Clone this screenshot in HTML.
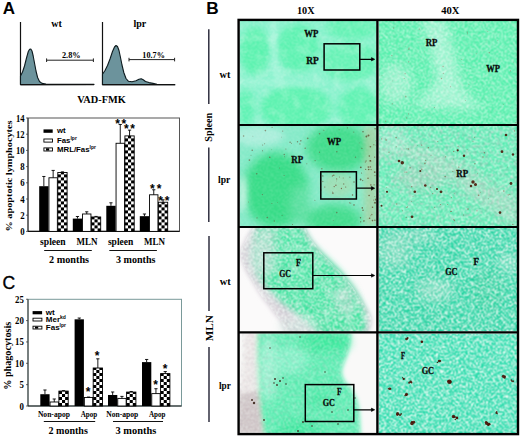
<!DOCTYPE html>
<html><head><meta charset="utf-8"><style>
html,body{margin:0;padding:0;background:#fff;width:520px;height:437px;overflow:hidden}
svg{display:block}
</style></head><body>
<svg xmlns="http://www.w3.org/2000/svg" width="520" height="437" viewBox="0 0 520 437">
<rect width="520" height="437" fill="#fff"/>
<line x1="20.5" y1="22" x2="20.5" y2="85" stroke="#111" stroke-width="1.2"/>
<path d="M20.5,84.6 20.5,76 22.5,72 24.5,66 26.5,58 28.3,51.5 29.6,49.2 30.8,49 32,51 33.2,56 34.5,63 36,71 37.6,77.5 39.5,81.5 42,83.4 46,84 60,84.2 94,84.4 Z" fill="#6c939c" stroke="#0d1a1e" stroke-width="1.1" stroke-linejoin="round"/>
<line x1="20.5" y1="84.6" x2="94" y2="84.6" stroke="#111" stroke-width="1.2"/>
<line x1="102.5" y1="22" x2="102.5" y2="85" stroke="#111" stroke-width="1.2"/>
<path d="M102.5,84.8 102.5,74.2 105,70.5 107.5,65.5 110,59 112.5,51.5 114.5,47 116,45.5 117.5,46.5 119,50.5 120.5,57.5 122,65 123.8,72.5 126,78.5 128.5,81.3 132,81.7 136,80.8 139,79.3 141.2,78.8 143.2,79.8 145.5,81.5 149,82.6 153,83.4 157,84.2 162,84.7 175,84.7 Z" fill="#6c939c" stroke="#0d1a1e" stroke-width="1.1" stroke-linejoin="round"/>
<line x1="102.5" y1="84.6" x2="175" y2="84.6" stroke="#111" stroke-width="1.2"/>
<text x="56.5" y="26.5" font-size="10" font-family="Liberation Serif, serif" font-weight="bold" text-anchor="middle" fill="#000" >wt</text>
<text x="139.8" y="26.5" font-size="10" font-family="Liberation Serif, serif" font-weight="bold" text-anchor="middle" fill="#000" >lpr</text>
<line x1="46.6" y1="60.2" x2="93.4" y2="60.2" stroke="#222" stroke-width="1"/>
<line x1="46.6" y1="58.400000000000006" x2="46.6" y2="62.0" stroke="#222" stroke-width="1"/>
<line x1="93.4" y1="58.400000000000006" x2="93.4" y2="62.0" stroke="#222" stroke-width="1"/>
<line x1="129" y1="59.6" x2="174.6" y2="59.6" stroke="#222" stroke-width="1"/>
<line x1="129" y1="57.800000000000004" x2="129" y2="61.4" stroke="#222" stroke-width="1"/>
<line x1="174.6" y1="57.800000000000004" x2="174.6" y2="61.4" stroke="#222" stroke-width="1"/>
<text x="71.3" y="58" font-size="8.3" font-family="Liberation Serif, serif" font-weight="bold" text-anchor="middle" fill="#000" >2.8%</text>
<text x="153.6" y="57.6" font-size="8.2" font-family="Liberation Serif, serif" font-weight="bold" text-anchor="middle" fill="#000" >10.7%</text>
<text x="101.5" y="102.7" font-size="10" font-family="Liberation Serif, serif" font-weight="bold" text-anchor="middle" fill="#000" textLength="48.5" lengthAdjust="spacingAndGlyphs" >VAD-FMK</text>
<rect x="28.0" y="118.0" width="151.5" height="113.4" fill="none" stroke="#555" stroke-width="1"/>
<line x1="26.0" y1="231.4" x2="28.0" y2="231.4" stroke="#444" stroke-width="0.8"/>
<text x="24.6" y="234.9" font-size="10" font-family="Liberation Serif, serif" font-weight="bold" text-anchor="end" fill="#000" textLength="4.4" lengthAdjust="spacingAndGlyphs" >0</text>
<line x1="26.0" y1="215.20000000000002" x2="28.0" y2="215.20000000000002" stroke="#444" stroke-width="0.8"/>
<text x="24.6" y="218.70000000000002" font-size="10" font-family="Liberation Serif, serif" font-weight="bold" text-anchor="end" fill="#000" textLength="4.4" lengthAdjust="spacingAndGlyphs" >2</text>
<line x1="26.0" y1="199.0" x2="28.0" y2="199.0" stroke="#444" stroke-width="0.8"/>
<text x="24.6" y="202.5" font-size="10" font-family="Liberation Serif, serif" font-weight="bold" text-anchor="end" fill="#000" textLength="4.4" lengthAdjust="spacingAndGlyphs" >4</text>
<line x1="26.0" y1="182.8" x2="28.0" y2="182.8" stroke="#444" stroke-width="0.8"/>
<text x="24.6" y="186.3" font-size="10" font-family="Liberation Serif, serif" font-weight="bold" text-anchor="end" fill="#000" textLength="4.4" lengthAdjust="spacingAndGlyphs" >6</text>
<line x1="26.0" y1="166.60000000000002" x2="28.0" y2="166.60000000000002" stroke="#444" stroke-width="0.8"/>
<text x="24.6" y="170.10000000000002" font-size="10" font-family="Liberation Serif, serif" font-weight="bold" text-anchor="end" fill="#000" textLength="4.4" lengthAdjust="spacingAndGlyphs" >8</text>
<line x1="26.0" y1="150.4" x2="28.0" y2="150.4" stroke="#444" stroke-width="0.8"/>
<text x="24.6" y="153.9" font-size="10" font-family="Liberation Serif, serif" font-weight="bold" text-anchor="end" fill="#000" textLength="8.6" lengthAdjust="spacingAndGlyphs" >10</text>
<line x1="26.0" y1="134.20000000000002" x2="28.0" y2="134.20000000000002" stroke="#444" stroke-width="0.8"/>
<text x="24.6" y="137.70000000000002" font-size="10" font-family="Liberation Serif, serif" font-weight="bold" text-anchor="end" fill="#000" textLength="8.6" lengthAdjust="spacingAndGlyphs" >12</text>
<line x1="26.0" y1="118.00000000000001" x2="28.0" y2="118.00000000000001" stroke="#444" stroke-width="0.8"/>
<text x="24.6" y="121.50000000000001" font-size="10" font-family="Liberation Serif, serif" font-weight="bold" text-anchor="end" fill="#000" textLength="8.6" lengthAdjust="spacingAndGlyphs" >14</text>
<line x1="28.0" y1="118.0" x2="28.0" y2="231.4" stroke="#333" stroke-width="1"/>
<line x1="28.0" y1="231.4" x2="179.5" y2="231.4" stroke="#111" stroke-width="1.1"/>
<text transform="translate(11.9,176) rotate(-90)" font-size="9.2" font-family="Liberation Serif, serif" font-weight="bold" text-anchor="middle" textLength="111" lengthAdjust="spacingAndGlyphs">% apoptotic lymphocytes</text>
<rect x="39.2" y="186.202" width="9.3" height="45.19800000000001" fill="#000"/>
<line x1="43.85" y1="186.202" x2="43.85" y2="176.482" stroke="#000" stroke-width="0.9"/>
<line x1="42.25" y1="176.482" x2="45.45" y2="176.482" stroke="#000" stroke-width="0.9"/>
<rect x="48.95" y="177.77800000000002" width="8.4" height="53.621999999999986" fill="#fff" stroke="#000" stroke-width="0.9"/>
<line x1="53.15" y1="177.77800000000002" x2="53.15" y2="170.407" stroke="#000" stroke-width="0.9"/>
<line x1="51.55" y1="170.407" x2="54.75" y2="170.407" stroke="#000" stroke-width="0.9"/>
<rect x="57.800000000000004" y="172.513" width="9.3" height="58.887" fill="#fff"/>
<rect x="57.80" y="228.40" width="3.10" height="3.00" fill="#000"/>
<rect x="64.00" y="228.40" width="3.10" height="3.00" fill="#000"/>
<rect x="60.90" y="225.40" width="3.10" height="3.00" fill="#000"/>
<rect x="57.80" y="222.40" width="3.10" height="3.00" fill="#000"/>
<rect x="64.00" y="222.40" width="3.10" height="3.00" fill="#000"/>
<rect x="60.90" y="219.40" width="3.10" height="3.00" fill="#000"/>
<rect x="57.80" y="216.40" width="3.10" height="3.00" fill="#000"/>
<rect x="64.00" y="216.40" width="3.10" height="3.00" fill="#000"/>
<rect x="60.90" y="213.40" width="3.10" height="3.00" fill="#000"/>
<rect x="57.80" y="210.40" width="3.10" height="3.00" fill="#000"/>
<rect x="64.00" y="210.40" width="3.10" height="3.00" fill="#000"/>
<rect x="60.90" y="207.40" width="3.10" height="3.00" fill="#000"/>
<rect x="57.80" y="204.40" width="3.10" height="3.00" fill="#000"/>
<rect x="64.00" y="204.40" width="3.10" height="3.00" fill="#000"/>
<rect x="60.90" y="201.40" width="3.10" height="3.00" fill="#000"/>
<rect x="57.80" y="198.40" width="3.10" height="3.00" fill="#000"/>
<rect x="64.00" y="198.40" width="3.10" height="3.00" fill="#000"/>
<rect x="60.90" y="195.40" width="3.10" height="3.00" fill="#000"/>
<rect x="57.80" y="192.40" width="3.10" height="3.00" fill="#000"/>
<rect x="64.00" y="192.40" width="3.10" height="3.00" fill="#000"/>
<rect x="60.90" y="189.40" width="3.10" height="3.00" fill="#000"/>
<rect x="57.80" y="186.40" width="3.10" height="3.00" fill="#000"/>
<rect x="64.00" y="186.40" width="3.10" height="3.00" fill="#000"/>
<rect x="60.90" y="183.40" width="3.10" height="3.00" fill="#000"/>
<rect x="57.80" y="180.40" width="3.10" height="3.00" fill="#000"/>
<rect x="64.00" y="180.40" width="3.10" height="3.00" fill="#000"/>
<rect x="60.90" y="177.40" width="3.10" height="3.00" fill="#000"/>
<rect x="57.80" y="174.40" width="3.10" height="3.00" fill="#000"/>
<rect x="64.00" y="174.40" width="3.10" height="3.00" fill="#000"/>
<rect x="60.90" y="172.51" width="3.10" height="1.89" fill="#000"/>
<rect x="57.800000000000004" y="172.513" width="9.3" height="58.887" fill="none" stroke="#000" stroke-width="0.9"/>
<line x1="62.45" y1="172.513" x2="62.45" y2="171.865" stroke="#000" stroke-width="0.9"/>
<line x1="60.85" y1="171.865" x2="64.05" y2="171.865" stroke="#000" stroke-width="0.9"/>
<rect x="72.8" y="218.602" width="9.3" height="12.798000000000002" fill="#000"/>
<line x1="77.45" y1="218.602" x2="77.45" y2="216.496" stroke="#000" stroke-width="0.9"/>
<line x1="75.85000000000001" y1="216.496" x2="79.05" y2="216.496" stroke="#000" stroke-width="0.9"/>
<rect x="82.55" y="213.985" width="8.4" height="17.414999999999992" fill="#fff" stroke="#000" stroke-width="0.9"/>
<line x1="86.75" y1="213.985" x2="86.75" y2="211.798" stroke="#000" stroke-width="0.9"/>
<line x1="85.15" y1="211.798" x2="88.35" y2="211.798" stroke="#000" stroke-width="0.9"/>
<rect x="91.4" y="216.982" width="9.3" height="14.418000000000006" fill="#fff"/>
<rect x="91.40" y="228.40" width="3.10" height="3.00" fill="#000"/>
<rect x="97.60" y="228.40" width="3.10" height="3.00" fill="#000"/>
<rect x="94.50" y="225.40" width="3.10" height="3.00" fill="#000"/>
<rect x="91.40" y="222.40" width="3.10" height="3.00" fill="#000"/>
<rect x="97.60" y="222.40" width="3.10" height="3.00" fill="#000"/>
<rect x="94.50" y="219.40" width="3.10" height="3.00" fill="#000"/>
<rect x="91.40" y="216.98" width="3.10" height="2.42" fill="#000"/>
<rect x="97.60" y="216.98" width="3.10" height="2.42" fill="#000"/>
<rect x="91.4" y="216.982" width="9.3" height="14.418000000000006" fill="none" stroke="#000" stroke-width="0.9"/>
<line x1="96.05000000000001" y1="216.982" x2="96.05000000000001" y2="216.41500000000002" stroke="#000" stroke-width="0.9"/>
<line x1="94.45000000000002" y1="216.41500000000002" x2="97.65" y2="216.41500000000002" stroke="#000" stroke-width="0.9"/>
<rect x="106.3" y="205.804" width="9.3" height="25.596000000000004" fill="#000"/>
<line x1="110.95" y1="205.804" x2="110.95" y2="202.80700000000002" stroke="#000" stroke-width="0.9"/>
<line x1="109.35000000000001" y1="202.80700000000002" x2="112.55" y2="202.80700000000002" stroke="#000" stroke-width="0.9"/>
<rect x="116.05" y="143.272" width="8.4" height="88.12800000000001" fill="#fff" stroke="#000" stroke-width="0.9"/>
<line x1="120.25" y1="143.272" x2="120.25" y2="124.48000000000002" stroke="#000" stroke-width="0.9"/>
<line x1="118.65" y1="124.48000000000002" x2="121.85" y2="124.48000000000002" stroke="#000" stroke-width="0.9"/>
<rect x="124.9" y="135.901" width="9.3" height="95.499" fill="#fff"/>
<rect x="124.90" y="228.40" width="3.10" height="3.00" fill="#000"/>
<rect x="131.10" y="228.40" width="3.10" height="3.00" fill="#000"/>
<rect x="128.00" y="225.40" width="3.10" height="3.00" fill="#000"/>
<rect x="124.90" y="222.40" width="3.10" height="3.00" fill="#000"/>
<rect x="131.10" y="222.40" width="3.10" height="3.00" fill="#000"/>
<rect x="128.00" y="219.40" width="3.10" height="3.00" fill="#000"/>
<rect x="124.90" y="216.40" width="3.10" height="3.00" fill="#000"/>
<rect x="131.10" y="216.40" width="3.10" height="3.00" fill="#000"/>
<rect x="128.00" y="213.40" width="3.10" height="3.00" fill="#000"/>
<rect x="124.90" y="210.40" width="3.10" height="3.00" fill="#000"/>
<rect x="131.10" y="210.40" width="3.10" height="3.00" fill="#000"/>
<rect x="128.00" y="207.40" width="3.10" height="3.00" fill="#000"/>
<rect x="124.90" y="204.40" width="3.10" height="3.00" fill="#000"/>
<rect x="131.10" y="204.40" width="3.10" height="3.00" fill="#000"/>
<rect x="128.00" y="201.40" width="3.10" height="3.00" fill="#000"/>
<rect x="124.90" y="198.40" width="3.10" height="3.00" fill="#000"/>
<rect x="131.10" y="198.40" width="3.10" height="3.00" fill="#000"/>
<rect x="128.00" y="195.40" width="3.10" height="3.00" fill="#000"/>
<rect x="124.90" y="192.40" width="3.10" height="3.00" fill="#000"/>
<rect x="131.10" y="192.40" width="3.10" height="3.00" fill="#000"/>
<rect x="128.00" y="189.40" width="3.10" height="3.00" fill="#000"/>
<rect x="124.90" y="186.40" width="3.10" height="3.00" fill="#000"/>
<rect x="131.10" y="186.40" width="3.10" height="3.00" fill="#000"/>
<rect x="128.00" y="183.40" width="3.10" height="3.00" fill="#000"/>
<rect x="124.90" y="180.40" width="3.10" height="3.00" fill="#000"/>
<rect x="131.10" y="180.40" width="3.10" height="3.00" fill="#000"/>
<rect x="128.00" y="177.40" width="3.10" height="3.00" fill="#000"/>
<rect x="124.90" y="174.40" width="3.10" height="3.00" fill="#000"/>
<rect x="131.10" y="174.40" width="3.10" height="3.00" fill="#000"/>
<rect x="128.00" y="171.40" width="3.10" height="3.00" fill="#000"/>
<rect x="124.90" y="168.40" width="3.10" height="3.00" fill="#000"/>
<rect x="131.10" y="168.40" width="3.10" height="3.00" fill="#000"/>
<rect x="128.00" y="165.40" width="3.10" height="3.00" fill="#000"/>
<rect x="124.90" y="162.40" width="3.10" height="3.00" fill="#000"/>
<rect x="131.10" y="162.40" width="3.10" height="3.00" fill="#000"/>
<rect x="128.00" y="159.40" width="3.10" height="3.00" fill="#000"/>
<rect x="124.90" y="156.40" width="3.10" height="3.00" fill="#000"/>
<rect x="131.10" y="156.40" width="3.10" height="3.00" fill="#000"/>
<rect x="128.00" y="153.40" width="3.10" height="3.00" fill="#000"/>
<rect x="124.90" y="150.40" width="3.10" height="3.00" fill="#000"/>
<rect x="131.10" y="150.40" width="3.10" height="3.00" fill="#000"/>
<rect x="128.00" y="147.40" width="3.10" height="3.00" fill="#000"/>
<rect x="124.90" y="144.40" width="3.10" height="3.00" fill="#000"/>
<rect x="131.10" y="144.40" width="3.10" height="3.00" fill="#000"/>
<rect x="128.00" y="141.40" width="3.10" height="3.00" fill="#000"/>
<rect x="124.90" y="138.40" width="3.10" height="3.00" fill="#000"/>
<rect x="131.10" y="138.40" width="3.10" height="3.00" fill="#000"/>
<rect x="128.00" y="135.90" width="3.10" height="2.50" fill="#000"/>
<rect x="124.9" y="135.901" width="9.3" height="95.499" fill="none" stroke="#000" stroke-width="0.9"/>
<line x1="129.55" y1="135.901" x2="129.55" y2="130.15" stroke="#000" stroke-width="0.9"/>
<line x1="127.95000000000002" y1="130.15" x2="131.15" y2="130.15" stroke="#000" stroke-width="0.9"/>
<rect x="139.8" y="216.172" width="9.3" height="15.228000000000009" fill="#000"/>
<line x1="144.45000000000002" y1="216.172" x2="144.45000000000002" y2="213.985" stroke="#000" stroke-width="0.9"/>
<line x1="142.85000000000002" y1="213.985" x2="146.05" y2="213.985" stroke="#000" stroke-width="0.9"/>
<rect x="149.55" y="194.788" width="8.4" height="36.611999999999995" fill="#fff" stroke="#000" stroke-width="0.9"/>
<line x1="153.75000000000003" y1="194.788" x2="153.75000000000003" y2="189.76600000000002" stroke="#000" stroke-width="0.9"/>
<line x1="152.15000000000003" y1="189.76600000000002" x2="155.35000000000002" y2="189.76600000000002" stroke="#000" stroke-width="0.9"/>
<rect x="158.4" y="202.24" width="9.3" height="29.159999999999997" fill="#fff"/>
<rect x="158.40" y="228.40" width="3.10" height="3.00" fill="#000"/>
<rect x="164.60" y="228.40" width="3.10" height="3.00" fill="#000"/>
<rect x="161.50" y="225.40" width="3.10" height="3.00" fill="#000"/>
<rect x="158.40" y="222.40" width="3.10" height="3.00" fill="#000"/>
<rect x="164.60" y="222.40" width="3.10" height="3.00" fill="#000"/>
<rect x="161.50" y="219.40" width="3.10" height="3.00" fill="#000"/>
<rect x="158.40" y="216.40" width="3.10" height="3.00" fill="#000"/>
<rect x="164.60" y="216.40" width="3.10" height="3.00" fill="#000"/>
<rect x="161.50" y="213.40" width="3.10" height="3.00" fill="#000"/>
<rect x="158.40" y="210.40" width="3.10" height="3.00" fill="#000"/>
<rect x="164.60" y="210.40" width="3.10" height="3.00" fill="#000"/>
<rect x="161.50" y="207.40" width="3.10" height="3.00" fill="#000"/>
<rect x="158.40" y="204.40" width="3.10" height="3.00" fill="#000"/>
<rect x="164.60" y="204.40" width="3.10" height="3.00" fill="#000"/>
<rect x="161.50" y="202.24" width="3.10" height="2.16" fill="#000"/>
<rect x="158.4" y="202.24" width="9.3" height="29.159999999999997" fill="none" stroke="#000" stroke-width="0.9"/>
<line x1="163.05" y1="202.24" x2="163.05" y2="199.81" stroke="#000" stroke-width="0.9"/>
<line x1="161.45000000000002" y1="199.81" x2="164.65" y2="199.81" stroke="#000" stroke-width="0.9"/>
<text x="117.60" y="127.80" font-size="12" font-family="Liberation Sans, sans-serif" font-weight="bold" text-anchor="middle">*</text>
<text x="123.90" y="127.80" font-size="12" font-family="Liberation Sans, sans-serif" font-weight="bold" text-anchor="middle">*</text>
<text x="126.40" y="132.80" font-size="12" font-family="Liberation Sans, sans-serif" font-weight="bold" text-anchor="middle">*</text>
<text x="132.70" y="132.80" font-size="12" font-family="Liberation Sans, sans-serif" font-weight="bold" text-anchor="middle">*</text>
<text x="152.40" y="192.80" font-size="12" font-family="Liberation Sans, sans-serif" font-weight="bold" text-anchor="middle">*</text>
<text x="159.00" y="192.80" font-size="12" font-family="Liberation Sans, sans-serif" font-weight="bold" text-anchor="middle">*</text>
<text x="160.70" y="204.70" font-size="12" font-family="Liberation Sans, sans-serif" font-weight="bold" text-anchor="middle">*</text>
<text x="167.00" y="204.70" font-size="12" font-family="Liberation Sans, sans-serif" font-weight="bold" text-anchor="middle">*</text>
<rect x="43.5" y="129.4" width="9.2" height="3.4" fill="#000"/>
<rect x="43.9" y="139" width="8.6" height="3.1" fill="#fff" stroke="#000" stroke-width="0.9"/>
<rect x="43.9" y="147.9" width="8.6" height="3.1" fill="#fff" stroke="#000" stroke-width="0.9"/>
<rect x="46" y="148.3" width="3.2" height="2.3" fill="#000"/>
<text x="57" y="133.2" font-size="7.8" font-family="Liberation Sans, sans-serif" font-weight="bold" text-anchor="start" fill="#000" >wt</text>
<text x="57" y="142.8" font-size="7.8" font-family="Liberation Sans, sans-serif" font-weight="bold" text-anchor="start" fill="#000" >Fas<tspan font-size="5" dy="-3">lpr</tspan></text>
<text x="57" y="152.4" font-size="7.8" font-family="Liberation Sans, sans-serif" font-weight="bold" text-anchor="start" fill="#000" >MRL/Fas<tspan font-size="5" dy="-3">lpr</tspan></text>
<text x="52.9" y="245" font-size="9.6" font-family="Liberation Serif, serif" font-weight="bold" text-anchor="middle" fill="#000" textLength="25.6" lengthAdjust="spacingAndGlyphs" >spleen</text>
<text x="87" y="245" font-size="9.6" font-family="Liberation Serif, serif" font-weight="bold" text-anchor="middle" fill="#000" textLength="21" lengthAdjust="spacingAndGlyphs" >MLN</text>
<text x="120.6" y="245" font-size="9.6" font-family="Liberation Serif, serif" font-weight="bold" text-anchor="middle" fill="#000" textLength="25.4" lengthAdjust="spacingAndGlyphs" >spleen</text>
<text x="154.5" y="245" font-size="9.6" font-family="Liberation Serif, serif" font-weight="bold" text-anchor="middle" fill="#000" textLength="21" lengthAdjust="spacingAndGlyphs" >MLN</text>
<line x1="44.2" y1="250.5" x2="91.8" y2="250.5" stroke="#111" stroke-width="1"/>
<line x1="109.3" y1="250.5" x2="156.9" y2="250.5" stroke="#111" stroke-width="1"/>
<text x="69.1" y="262.7" font-size="10" font-family="Liberation Serif, serif" font-weight="bold" text-anchor="middle" fill="#000" textLength="40" lengthAdjust="spacingAndGlyphs" >2 months</text>
<text x="135.7" y="262.7" font-size="10" font-family="Liberation Serif, serif" font-weight="bold" text-anchor="middle" fill="#000" textLength="39.4" lengthAdjust="spacingAndGlyphs" >3 months</text>
<text x="2.4" y="289.2" font-size="17.5" font-family="Liberation Sans, sans-serif" fill="#000" stroke="#000" stroke-width="0.35">C</text>
<rect x="28.0" y="299.3" width="153.5" height="106.69999999999999" fill="none" stroke="#7a9a9a" stroke-width="1"/>
<line x1="26.0" y1="406.0" x2="28.0" y2="406.0" stroke="#444" stroke-width="0.8"/>
<text x="23.8" y="409.5" font-size="10" font-family="Liberation Serif, serif" font-weight="bold" text-anchor="end" fill="#000" textLength="4.4" lengthAdjust="spacingAndGlyphs" >0</text>
<line x1="26.0" y1="384.65" x2="28.0" y2="384.65" stroke="#444" stroke-width="0.8"/>
<text x="23.8" y="388.15" font-size="10" font-family="Liberation Serif, serif" font-weight="bold" text-anchor="end" fill="#000" textLength="4.4" lengthAdjust="spacingAndGlyphs" >5</text>
<line x1="26.0" y1="363.3" x2="28.0" y2="363.3" stroke="#444" stroke-width="0.8"/>
<text x="23.8" y="366.8" font-size="10" font-family="Liberation Serif, serif" font-weight="bold" text-anchor="end" fill="#000" textLength="8.8" lengthAdjust="spacingAndGlyphs" >10</text>
<line x1="26.0" y1="341.95" x2="28.0" y2="341.95" stroke="#444" stroke-width="0.8"/>
<text x="23.8" y="345.45" font-size="10" font-family="Liberation Serif, serif" font-weight="bold" text-anchor="end" fill="#000" textLength="8.8" lengthAdjust="spacingAndGlyphs" >15</text>
<line x1="26.0" y1="320.6" x2="28.0" y2="320.6" stroke="#444" stroke-width="0.8"/>
<text x="23.8" y="324.1" font-size="10" font-family="Liberation Serif, serif" font-weight="bold" text-anchor="end" fill="#000" textLength="8.8" lengthAdjust="spacingAndGlyphs" >20</text>
<line x1="26.0" y1="299.25" x2="28.0" y2="299.25" stroke="#444" stroke-width="0.8"/>
<text x="23.8" y="302.75" font-size="10" font-family="Liberation Serif, serif" font-weight="bold" text-anchor="end" fill="#000" textLength="8.8" lengthAdjust="spacingAndGlyphs" >25</text>
<line x1="28.0" y1="299.3" x2="28.0" y2="406.0" stroke="#333" stroke-width="1"/>
<line x1="28.0" y1="406.0" x2="181.5" y2="406.0" stroke="#111" stroke-width="1.1"/>
<text transform="translate(10.5,355.8) rotate(-90)" font-size="9.4" font-family="Liberation Serif, serif" font-weight="bold" text-anchor="middle" textLength="68" lengthAdjust="spacingAndGlyphs">% phagocytosis</text>
<rect x="40.3" y="394.2148" width="9.3" height="11.785199999999975" fill="#000"/>
<line x1="44.949999999999996" y1="394.2148" x2="44.949999999999996" y2="389.9875" stroke="#000" stroke-width="0.9"/>
<line x1="43.349999999999994" y1="389.9875" x2="46.55" y2="389.9875" stroke="#000" stroke-width="0.9"/>
<rect x="50.05" y="401.9862" width="8.4" height="4.013800000000003" fill="#fff" stroke="#000" stroke-width="0.9"/>
<line x1="54.24999999999999" y1="401.9862" x2="54.24999999999999" y2="398.9972" stroke="#000" stroke-width="0.9"/>
<line x1="52.64999999999999" y1="398.9972" x2="55.849999999999994" y2="398.9972" stroke="#000" stroke-width="0.9"/>
<rect x="58.9" y="391.0977" width="9.3" height="14.902300000000025" fill="#fff"/>
<rect x="58.90" y="403.00" width="3.10" height="3.00" fill="#000"/>
<rect x="65.10" y="403.00" width="3.10" height="3.00" fill="#000"/>
<rect x="62.00" y="400.00" width="3.10" height="3.00" fill="#000"/>
<rect x="58.90" y="397.00" width="3.10" height="3.00" fill="#000"/>
<rect x="65.10" y="397.00" width="3.10" height="3.00" fill="#000"/>
<rect x="62.00" y="394.00" width="3.10" height="3.00" fill="#000"/>
<rect x="58.90" y="391.10" width="3.10" height="2.90" fill="#000"/>
<rect x="65.10" y="391.10" width="3.10" height="2.90" fill="#000"/>
<rect x="58.9" y="391.0977" width="9.3" height="14.902300000000025" fill="none" stroke="#000" stroke-width="0.9"/>
<line x1="63.55" y1="391.0977" x2="63.55" y2="390.628" stroke="#000" stroke-width="0.9"/>
<line x1="61.949999999999996" y1="390.628" x2="65.14999999999999" y2="390.628" stroke="#000" stroke-width="0.9"/>
<rect x="74.6" y="319.319" width="9.3" height="86.68099999999998" fill="#000"/>
<line x1="79.25" y1="319.319" x2="79.25" y2="318.038" stroke="#000" stroke-width="0.9"/>
<line x1="77.65" y1="318.038" x2="80.85" y2="318.038" stroke="#000" stroke-width="0.9"/>
<rect x="84.35" y="397.46" width="8.4" height="8.54000000000002" fill="#fff" stroke="#000" stroke-width="0.9"/>
<line x1="88.55" y1="397.46" x2="88.55" y2="397.033" stroke="#000" stroke-width="0.9"/>
<line x1="86.95" y1="397.033" x2="90.14999999999999" y2="397.033" stroke="#000" stroke-width="0.9"/>
<rect x="93.19999999999999" y="367.997" width="9.3" height="38.002999999999986" fill="#fff"/>
<rect x="93.20" y="403.00" width="3.10" height="3.00" fill="#000"/>
<rect x="99.40" y="403.00" width="3.10" height="3.00" fill="#000"/>
<rect x="96.30" y="400.00" width="3.10" height="3.00" fill="#000"/>
<rect x="93.20" y="397.00" width="3.10" height="3.00" fill="#000"/>
<rect x="99.40" y="397.00" width="3.10" height="3.00" fill="#000"/>
<rect x="96.30" y="394.00" width="3.10" height="3.00" fill="#000"/>
<rect x="93.20" y="391.00" width="3.10" height="3.00" fill="#000"/>
<rect x="99.40" y="391.00" width="3.10" height="3.00" fill="#000"/>
<rect x="96.30" y="388.00" width="3.10" height="3.00" fill="#000"/>
<rect x="93.20" y="385.00" width="3.10" height="3.00" fill="#000"/>
<rect x="99.40" y="385.00" width="3.10" height="3.00" fill="#000"/>
<rect x="96.30" y="382.00" width="3.10" height="3.00" fill="#000"/>
<rect x="93.20" y="379.00" width="3.10" height="3.00" fill="#000"/>
<rect x="99.40" y="379.00" width="3.10" height="3.00" fill="#000"/>
<rect x="96.30" y="376.00" width="3.10" height="3.00" fill="#000"/>
<rect x="93.20" y="373.00" width="3.10" height="3.00" fill="#000"/>
<rect x="99.40" y="373.00" width="3.10" height="3.00" fill="#000"/>
<rect x="96.30" y="370.00" width="3.10" height="3.00" fill="#000"/>
<rect x="93.20" y="368.00" width="3.10" height="2.00" fill="#000"/>
<rect x="99.40" y="368.00" width="3.10" height="2.00" fill="#000"/>
<rect x="93.19999999999999" y="367.997" width="9.3" height="38.002999999999986" fill="none" stroke="#000" stroke-width="0.9"/>
<line x1="97.85" y1="367.997" x2="97.85" y2="358.8165" stroke="#000" stroke-width="0.9"/>
<line x1="96.25" y1="358.8165" x2="99.44999999999999" y2="358.8165" stroke="#000" stroke-width="0.9"/>
<rect x="108.0" y="394.9834" width="9.3" height="11.016599999999983" fill="#000"/>
<line x1="112.65" y1="394.9834" x2="112.65" y2="391.9944" stroke="#000" stroke-width="0.9"/>
<line x1="111.05000000000001" y1="391.9944" x2="114.25" y2="391.9944" stroke="#000" stroke-width="0.9"/>
<rect x="117.75" y="398.3994" width="8.4" height="7.600599999999986" fill="#fff" stroke="#000" stroke-width="0.9"/>
<line x1="121.95" y1="398.3994" x2="121.95" y2="396.3925" stroke="#000" stroke-width="0.9"/>
<line x1="120.35000000000001" y1="396.3925" x2="123.55" y2="396.3925" stroke="#000" stroke-width="0.9"/>
<rect x="126.6" y="392.0798" width="9.3" height="13.920200000000023" fill="#fff"/>
<rect x="126.60" y="403.00" width="3.10" height="3.00" fill="#000"/>
<rect x="132.80" y="403.00" width="3.10" height="3.00" fill="#000"/>
<rect x="129.70" y="400.00" width="3.10" height="3.00" fill="#000"/>
<rect x="126.60" y="397.00" width="3.10" height="3.00" fill="#000"/>
<rect x="132.80" y="397.00" width="3.10" height="3.00" fill="#000"/>
<rect x="129.70" y="394.00" width="3.10" height="3.00" fill="#000"/>
<rect x="126.60" y="392.08" width="3.10" height="1.92" fill="#000"/>
<rect x="132.80" y="392.08" width="3.10" height="1.92" fill="#000"/>
<rect x="126.6" y="392.0798" width="9.3" height="13.920200000000023" fill="none" stroke="#000" stroke-width="0.9"/>
<line x1="131.25" y1="392.0798" x2="131.25" y2="391.482" stroke="#000" stroke-width="0.9"/>
<line x1="129.65" y1="391.482" x2="132.85" y2="391.482" stroke="#000" stroke-width="0.9"/>
<rect x="142.0" y="362.1044" width="9.3" height="43.8956" fill="#000"/>
<line x1="146.65" y1="362.1044" x2="146.65" y2="359.457" stroke="#000" stroke-width="0.9"/>
<line x1="145.05" y1="359.457" x2="148.25" y2="359.457" stroke="#000" stroke-width="0.9"/>
<rect x="151.75" y="393.617" width="8.4" height="12.382999999999981" fill="#fff" stroke="#000" stroke-width="0.9"/>
<line x1="155.95000000000002" y1="393.617" x2="155.95000000000002" y2="388.7065" stroke="#000" stroke-width="0.9"/>
<line x1="154.35000000000002" y1="388.7065" x2="157.55" y2="388.7065" stroke="#000" stroke-width="0.9"/>
<rect x="160.6" y="373.5907" width="9.3" height="32.40929999999997" fill="#fff"/>
<rect x="160.60" y="403.00" width="3.10" height="3.00" fill="#000"/>
<rect x="166.80" y="403.00" width="3.10" height="3.00" fill="#000"/>
<rect x="163.70" y="400.00" width="3.10" height="3.00" fill="#000"/>
<rect x="160.60" y="397.00" width="3.10" height="3.00" fill="#000"/>
<rect x="166.80" y="397.00" width="3.10" height="3.00" fill="#000"/>
<rect x="163.70" y="394.00" width="3.10" height="3.00" fill="#000"/>
<rect x="160.60" y="391.00" width="3.10" height="3.00" fill="#000"/>
<rect x="166.80" y="391.00" width="3.10" height="3.00" fill="#000"/>
<rect x="163.70" y="388.00" width="3.10" height="3.00" fill="#000"/>
<rect x="160.60" y="385.00" width="3.10" height="3.00" fill="#000"/>
<rect x="166.80" y="385.00" width="3.10" height="3.00" fill="#000"/>
<rect x="163.70" y="382.00" width="3.10" height="3.00" fill="#000"/>
<rect x="160.60" y="379.00" width="3.10" height="3.00" fill="#000"/>
<rect x="166.80" y="379.00" width="3.10" height="3.00" fill="#000"/>
<rect x="163.70" y="376.00" width="3.10" height="3.00" fill="#000"/>
<rect x="160.60" y="373.59" width="3.10" height="2.41" fill="#000"/>
<rect x="166.80" y="373.59" width="3.10" height="2.41" fill="#000"/>
<rect x="160.6" y="373.5907" width="9.3" height="32.40929999999997" fill="none" stroke="#000" stroke-width="0.9"/>
<line x1="165.25" y1="373.5907" x2="165.25" y2="371.5838" stroke="#000" stroke-width="0.9"/>
<line x1="163.65" y1="371.5838" x2="166.85" y2="371.5838" stroke="#000" stroke-width="0.9"/>
<text x="88.20" y="395.80" font-size="12" font-family="Liberation Sans, sans-serif" font-weight="bold" text-anchor="middle">*</text>
<text x="97.00" y="360.30" font-size="12" font-family="Liberation Sans, sans-serif" font-weight="bold" text-anchor="middle">*</text>
<text x="155.70" y="389.40" font-size="12" font-family="Liberation Sans, sans-serif" font-weight="bold" text-anchor="middle">*</text>
<text x="165.00" y="372.80" font-size="12" font-family="Liberation Sans, sans-serif" font-weight="bold" text-anchor="middle">*</text>
<rect x="32.6" y="311.1" width="9.5" height="3.2" fill="#000"/>
<rect x="33" y="318.2" width="8.9" height="2.8" fill="#fff" stroke="#000" stroke-width="0.9"/>
<rect x="33" y="326.2" width="8.9" height="2.8" fill="#fff" stroke="#000" stroke-width="0.9"/>
<rect x="35" y="326.6" width="3.2" height="2" fill="#000"/>
<text x="45.8" y="314.8" font-size="8" font-family="Liberation Sans, sans-serif" font-weight="bold" text-anchor="start" fill="#000" >wt</text>
<text x="45.8" y="322.3" font-size="8" font-family="Liberation Sans, sans-serif" font-weight="bold" text-anchor="start" fill="#000" >Mer<tspan font-size="5" dy="-3">kd</tspan></text>
<text x="45.8" y="330.3" font-size="8" font-family="Liberation Sans, sans-serif" font-weight="bold" text-anchor="start" fill="#000" >Fas<tspan font-size="5" dy="-3">lpr</tspan></text>
<text x="53.9" y="416.6" font-size="7.2" font-family="Liberation Serif, serif" font-weight="bold" text-anchor="middle" fill="#000" textLength="32" lengthAdjust="spacingAndGlyphs" >Non-apop</text>
<text x="88.9" y="416.6" font-size="7.2" font-family="Liberation Serif, serif" font-weight="bold" text-anchor="middle" fill="#000" textLength="16.5" lengthAdjust="spacingAndGlyphs" >Apop</text>
<text x="122.3" y="416.6" font-size="7.2" font-family="Liberation Serif, serif" font-weight="bold" text-anchor="middle" fill="#000" textLength="32" lengthAdjust="spacingAndGlyphs" >Non-apop</text>
<text x="157.2" y="416.6" font-size="7.2" font-family="Liberation Serif, serif" font-weight="bold" text-anchor="middle" fill="#000" textLength="16.5" lengthAdjust="spacingAndGlyphs" >Apop</text>
<line x1="43.8" y1="421.5" x2="95.2" y2="421.5" stroke="#111" stroke-width="1"/>
<line x1="113" y1="421.5" x2="163" y2="421.5" stroke="#111" stroke-width="1"/>
<text x="68.2" y="434.3" font-size="10" font-family="Liberation Serif, serif" font-weight="bold" text-anchor="middle" fill="#000" textLength="39.3" lengthAdjust="spacingAndGlyphs" >2 months</text>
<text x="135.9" y="434.3" font-size="10" font-family="Liberation Serif, serif" font-weight="bold" text-anchor="middle" fill="#000" textLength="40.7" lengthAdjust="spacingAndGlyphs" >3 months</text>
<text x="2.7" y="13.7" font-size="17" font-family="Liberation Sans, sans-serif" font-weight="bold">A</text>
<text x="206.3" y="13.7" font-size="17.2" font-family="Liberation Sans, sans-serif" font-weight="bold">B</text>
<text x="305.8" y="14.2" font-size="10" font-family="Liberation Serif, serif" font-weight="bold" text-anchor="middle" fill="#000" textLength="17.6" lengthAdjust="spacingAndGlyphs" >10X</text>
<text x="450.4" y="14.0" font-size="10" font-family="Liberation Serif, serif" font-weight="bold" text-anchor="middle" fill="#000" textLength="18.3" lengthAdjust="spacingAndGlyphs" >40X</text>
<defs>
<filter id="bl2" x="-20%" y="-20%" width="140%" height="140%"><feGaussianBlur stdDeviation="2"/></filter>
<filter id="bl3" x="-30%" y="-30%" width="160%" height="160%"><feGaussianBlur stdDeviation="3"/></filter>
<filter id="bl5" x="-40%" y="-40%" width="180%" height="180%"><feGaussianBlur stdDeviation="5"/></filter>
<filter id="bl8" x="-50%" y="-50%" width="200%" height="200%"><feGaussianBlur stdDeviation="8"/></filter>
<filter id="spk" x="0" y="0" width="100%" height="100%" color-interpolation-filters="sRGB"><feTurbulence type="fractalNoise" baseFrequency="0.45" numOctaves="2" seed="3" result="t"/><feColorMatrix in="t" type="matrix" values="0 0 0 0 1  0 0 0 0 1  0 0 0 0 1  4 0 0 0 -2.0" result="c"/><feConvolveMatrix in="c" order="3" kernelMatrix="1 2 1 2 4 2 1 2 1" divisor="16" edgeMode="duplicate"/></filter>
<filter id="spk2" x="0" y="0" width="100%" height="100%" color-interpolation-filters="sRGB"><feTurbulence type="fractalNoise" baseFrequency="0.45" numOctaves="2" seed="17" result="t"/><feColorMatrix in="t" type="matrix" values="0 0 0 0 1  0 0 0 0 1  0 0 0 0 1  4 0 0 0 -2.0" result="c"/><feConvolveMatrix in="c" order="3" kernelMatrix="1 2 1 2 4 2 1 2 1" divisor="16" edgeMode="duplicate"/></filter>
<filter id="spkb" x="0" y="0" width="100%" height="100%" color-interpolation-filters="sRGB"><feTurbulence type="fractalNoise" baseFrequency="0.6" numOctaves="2" seed="7" result="t"/><feColorMatrix in="t" type="matrix" values="0 0 0 0 0.97  0 0 0 0 1  0 0 0 0 0.98  6 0 0 0 -2.7" result="c"/><feConvolveMatrix in="c" order="3" kernelMatrix="1 2 1 2 4 2 1 2 1" divisor="16" edgeMode="duplicate"/></filter>
<filter id="mot" x="0" y="0" width="100%" height="100%" color-interpolation-filters="sRGB"><feTurbulence type="fractalNoise" baseFrequency="0.09" numOctaves="3" seed="5" result="t"/><feColorMatrix in="t" type="matrix" values="0 0 0 0 1  0 0 0 0 1  0 0 0 0 1  3 0 0 0 -1.4" result="c"/></filter>
<filter id="pep" x="0" y="0" width="100%" height="100%" color-interpolation-filters="sRGB"><feTurbulence type="fractalNoise" baseFrequency="0.5" numOctaves="2" seed="23" result="t"/><feColorMatrix in="t" type="matrix" values="0 0 0 0 0.45  0 0 0 0 0.3  0 0 0 0 0.3  0 4 0 0 -2.3" result="c"/><feConvolveMatrix in="c" order="3" kernelMatrix="1 2 1 2 4 2 1 2 1" divisor="16" edgeMode="duplicate"/></filter>
<filter id="gry" x="0" y="0" width="100%" height="100%" color-interpolation-filters="sRGB"><feTurbulence type="fractalNoise" baseFrequency="0.35" numOctaves="2" seed="29" result="t"/><feColorMatrix in="t" type="matrix" values="0 0 0 0 0.62  0 0 0 0 0.55  0 0 0 0 0.6  0 0 4 0 -1.9" result="c"/><feConvolveMatrix in="c" order="3" kernelMatrix="1 2 1 2 4 2 1 2 1" divisor="16" edgeMode="duplicate"/></filter>
<clipPath id="cp00"><rect x="239.6" y="21.0" width="136.6" height="103.0"/></clipPath>
<clipPath id="cp01"><rect x="378.6" y="21.0" width="138.6" height="103.0"/></clipPath>
<clipPath id="cp10"><rect x="239.6" y="126.0" width="136.6" height="100.0"/></clipPath>
<clipPath id="cp11"><rect x="378.6" y="126.0" width="138.6" height="100.0"/></clipPath>
<clipPath id="cp20"><rect x="239.6" y="228.0" width="136.6" height="103.5"/></clipPath>
<clipPath id="cp21"><rect x="378.6" y="228.0" width="138.6" height="103.5"/></clipPath>
<clipPath id="cp30"><rect x="239.6" y="333.4" width="136.6" height="99.8"/></clipPath>
<clipPath id="cp31"><rect x="378.6" y="333.4" width="138.6" height="99.8"/></clipPath>
</defs>
<g clip-path="url(#cp00)"><rect x="239.6" y="21.0" width="136.6" height="103.0" fill="#86f2cc"/><g filter="url(#bl3)"><ellipse cx="296" cy="108" rx="36" ry="22" fill="#58f2ae"/><ellipse cx="255" cy="51" rx="15" ry="24" fill="#58f2ae"/><ellipse cx="298" cy="48" rx="22" ry="24" fill="#5af2b0"/><ellipse cx="359" cy="108" rx="21" ry="21" fill="#5af2b0"/><ellipse cx="350" cy="62" rx="28" ry="20" fill="#62f2b4"/><ellipse cx="352" cy="28" rx="26" ry="11" fill="#5ef2b2"/><ellipse cx="246" cy="108" rx="9" ry="18" fill="#5cf2b2"/></g><g filter="url(#bl2)" opacity="0.45"><path d="M268,17 C272,35 270,55 273,75 C276,86 281,86 280,75 C277,55 279,35 276,17 Z" fill="#b8f8e4"/><path d="M236,80 C260,78 290,81 318,84 L318,87 C290,86 260,84 236,86 Z" fill="#b0f8e0"/></g><rect x="239.6" y="21.0" width="136.6" height="103.0" filter="url(#mot)" opacity="0.18"/><rect x="239.6" y="21.0" width="136.6" height="103.0" filter="url(#spkb)" opacity="0.22"/><text x="311.2" y="37.3" font-size="9.5" font-family="Liberation Serif, serif" font-weight="bold" text-anchor="middle" textLength="14.1" lengthAdjust="spacingAndGlyphs" fill="#0a0a0a" stroke="#0a0a0a" stroke-width="0.3">WP</text><text x="312.6" y="63.8" font-size="9.5" font-family="Liberation Serif, serif" font-weight="bold" text-anchor="middle" textLength="12.5" lengthAdjust="spacingAndGlyphs" fill="#0a0a0a" stroke="#0a0a0a" stroke-width="0.3">RP</text><rect x="324.1" y="43.8" width="35.7" height="26.2" fill="none" stroke="#000" stroke-width="1.5"/><line x1="359.8" y1="59.3" x2="372.8" y2="59.3" stroke="#000" stroke-width="1.2"/><path d="M371.40000000000003,57.599999999999994 L374.8,59.3 L371.40000000000003,61.0 Z" fill="#000" stroke="#000" stroke-width="0.5" stroke-linejoin="round"/></g>
<g clip-path="url(#cp01)"><rect x="378.6" y="21.0" width="138.6" height="103.0" fill="#4ef0aa"/><g filter="url(#bl5)" opacity="0.55"><path d="M420,18 C428,40 434,60 436,80 C430,92 420,100 412,106 L484,110 C472,100 462,92 460,82 C456,60 450,40 446,18 Z" fill="#d0f8ea"/><ellipse cx="396" cy="84" rx="16" ry="20" fill="#c0f4e0"/></g><rect x="378.6" y="21.0" width="138.6" height="103.0" filter="url(#spkb)" opacity="0.62"/><rect x="378.6" y="21.0" width="138.6" height="103.0" filter="url(#pep)" opacity="0.12"/><circle cx="441.5" cy="78.5" r="0.68" fill="#a05040" opacity="0.45"/><circle cx="443.3" cy="73.3" r="0.58" fill="#a05040" opacity="0.45"/><circle cx="405.1" cy="73.7" r="0.59" fill="#a05040" opacity="0.45"/><circle cx="487.8" cy="31.5" r="0.49" fill="#a05040" opacity="0.45"/><circle cx="392.3" cy="103.8" r="0.61" fill="#a05040" opacity="0.45"/><circle cx="385.7" cy="121.2" r="0.69" fill="#a05040" opacity="0.45"/><circle cx="468.9" cy="84.2" r="0.45" fill="#a05040" opacity="0.45"/><circle cx="382.0" cy="75.4" r="0.42" fill="#a05040" opacity="0.45"/><circle cx="405.9" cy="46.4" r="0.41" fill="#a05040" opacity="0.45"/><circle cx="443.1" cy="66.5" r="0.65" fill="#a05040" opacity="0.45"/><circle cx="450.6" cy="86.7" r="0.55" fill="#a05040" opacity="0.45"/><circle cx="470.1" cy="68.2" r="0.48" fill="#a05040" opacity="0.45"/><circle cx="515.7" cy="122.6" r="0.65" fill="#a05040" opacity="0.45"/><circle cx="476.3" cy="53.8" r="0.47" fill="#a05040" opacity="0.45"/><circle cx="419.3" cy="29.1" r="0.63" fill="#a05040" opacity="0.45"/><circle cx="434.5" cy="107.5" r="0.52" fill="#a05040" opacity="0.45"/><circle cx="510.3" cy="107.6" r="0.40" fill="#a05040" opacity="0.45"/><circle cx="408.5" cy="113.9" r="0.54" fill="#a05040" opacity="0.45"/><circle cx="513.3" cy="62.1" r="0.42" fill="#a05040" opacity="0.45"/><circle cx="465.6" cy="100.6" r="0.48" fill="#a05040" opacity="0.45"/><circle cx="391.9" cy="55.6" r="0.69" fill="#a05040" opacity="0.45"/><circle cx="483.1" cy="33.9" r="0.47" fill="#a05040" opacity="0.45"/><circle cx="393.7" cy="28.0" r="0.64" fill="#a05040" opacity="0.45"/><circle cx="404.2" cy="78.5" r="0.53" fill="#a05040" opacity="0.45"/><circle cx="405.9" cy="95.9" r="0.44" fill="#a05040" opacity="0.45"/><circle cx="467.5" cy="33.8" r="0.53" fill="#a05040" opacity="0.45"/><circle cx="408.9" cy="49.2" r="0.69" fill="#a05040" opacity="0.45"/><circle cx="489.3" cy="52.7" r="0.67" fill="#a05040" opacity="0.45"/><circle cx="408.7" cy="61.8" r="0.66" fill="#a05040" opacity="0.45"/><circle cx="467.3" cy="32.1" r="0.70" fill="#a05040" opacity="0.45"/><circle cx="409.0" cy="48.1" r="0.63" fill="#a05040" opacity="0.45"/><circle cx="424.7" cy="51.9" r="0.42" fill="#a05040" opacity="0.45"/><circle cx="392.3" cy="80.9" r="0.47" fill="#a05040" opacity="0.45"/><circle cx="461.8" cy="59.5" r="0.54" fill="#a05040" opacity="0.45"/><circle cx="510.4" cy="70.9" r="0.57" fill="#a05040" opacity="0.45"/><circle cx="497.8" cy="40.5" r="0.45" fill="#a05040" opacity="0.45"/><circle cx="503.5" cy="104.6" r="0.47" fill="#a05040" opacity="0.45"/><circle cx="405.8" cy="96.7" r="0.68" fill="#a05040" opacity="0.45"/><circle cx="406.7" cy="118.0" r="0.66" fill="#a05040" opacity="0.45"/><circle cx="462.1" cy="64.6" r="0.43" fill="#a05040" opacity="0.45"/><text x="431.6" y="45.7" font-size="9.5" font-family="Liberation Serif, serif" font-weight="bold" text-anchor="middle" textLength="11.7" lengthAdjust="spacingAndGlyphs" fill="#0a0a0a" stroke="#0a0a0a" stroke-width="0.3">RP</text><text x="493.1" y="72.0" font-size="9.5" font-family="Liberation Serif, serif" font-weight="bold" text-anchor="middle" textLength="13.8" lengthAdjust="spacingAndGlyphs" fill="#0a0a0a" stroke="#0a0a0a" stroke-width="0.3">WP</text></g>
<g clip-path="url(#cp10)"><rect x="239.6" y="126.0" width="136.6" height="100.0" fill="#84eac8"/><g filter="url(#bl5)"><ellipse cx="276" cy="190" rx="33" ry="38" fill="#36dc86"/><ellipse cx="338" cy="148" rx="32" ry="24" fill="#3cdc8a"/><ellipse cx="334" cy="220" rx="28" ry="16" fill="#40dc8c"/><ellipse cx="300" cy="205" rx="10" ry="20" fill="#5ae0a0"/></g><g filter="url(#bl3)" opacity="0.8"><ellipse cx="258" cy="136" rx="26" ry="10" fill="#b4f0e0"/><ellipse cx="243" cy="194" rx="4" ry="18" fill="#e0f8f2"/></g><g filter="url(#bl3)" opacity="0.6"><rect x="364" y="126" width="14" height="100" fill="#b4c894"/><ellipse cx="338" cy="185" rx="16" ry="12" fill="#a8d8a8"/></g><rect x="239.6" y="126.0" width="136.6" height="100.0" filter="url(#spkb)" opacity="0.15"/><circle cx="262.4" cy="194.6" r="0.72" fill="#6a4a30" opacity="0.55"/><circle cx="305.2" cy="148.2" r="0.80" fill="#6a4a30" opacity="0.55"/><circle cx="349.9" cy="177.2" r="0.65" fill="#6a4a30" opacity="0.55"/><circle cx="272.1" cy="127.3" r="0.59" fill="#6a4a30" opacity="0.55"/><circle cx="319.6" cy="133.8" r="0.80" fill="#6a4a30" opacity="0.55"/><circle cx="271.6" cy="149.8" r="0.42" fill="#6a4a30" opacity="0.55"/><circle cx="375.7" cy="199.4" r="0.84" fill="#6a4a30" opacity="0.55"/><circle cx="323.8" cy="130.3" r="0.56" fill="#6a4a30" opacity="0.55"/><circle cx="307.7" cy="138.3" r="0.88" fill="#6a4a30" opacity="0.55"/><circle cx="290.1" cy="142.2" r="0.81" fill="#6a4a30" opacity="0.55"/><circle cx="257.0" cy="217.9" r="0.63" fill="#6a4a30" opacity="0.55"/><circle cx="315.1" cy="160.6" r="0.64" fill="#6a4a30" opacity="0.55"/><circle cx="265.4" cy="130.6" r="0.83" fill="#6a4a30" opacity="0.55"/><circle cx="271.9" cy="203.5" r="0.50" fill="#6a4a30" opacity="0.55"/><circle cx="371.8" cy="214.6" r="0.78" fill="#6a4a30" opacity="0.55"/><circle cx="343.7" cy="183.9" r="0.76" fill="#6a4a30" opacity="0.55"/><circle cx="256.7" cy="173.7" r="0.81" fill="#6a4a30" opacity="0.55"/><circle cx="267.3" cy="217.5" r="0.84" fill="#6a4a30" opacity="0.55"/><circle cx="295.7" cy="162.8" r="0.63" fill="#6a4a30" opacity="0.55"/><circle cx="292.5" cy="224.5" r="0.59" fill="#6a4a30" opacity="0.55"/><circle cx="243.6" cy="136.1" r="0.76" fill="#6a4a30" opacity="0.55"/><circle cx="375.0" cy="175.6" r="0.65" fill="#6a4a30" opacity="0.55"/><circle cx="314.9" cy="200.3" r="0.51" fill="#6a4a30" opacity="0.55"/><circle cx="322.8" cy="181.5" r="0.71" fill="#6a4a30" opacity="0.55"/><circle cx="264.6" cy="143.7" r="0.57" fill="#6a4a30" opacity="0.55"/><circle cx="366.1" cy="161.0" r="0.70" fill="#6a4a30" opacity="0.55"/><circle cx="281.7" cy="137.1" r="0.43" fill="#6a4a30" opacity="0.55"/><circle cx="350.7" cy="203.1" r="0.59" fill="#6a4a30" opacity="0.55"/><circle cx="332.9" cy="193.2" r="0.85" fill="#6a4a30" opacity="0.55"/><circle cx="370.3" cy="166.9" r="0.89" fill="#6a4a30" opacity="0.55"/><circle cx="370.8" cy="184.9" r="0.84" fill="#6a4a30" opacity="0.55"/><circle cx="306.8" cy="163.8" r="0.52" fill="#6a4a30" opacity="0.55"/><circle cx="359.2" cy="142.9" r="0.43" fill="#6a4a30" opacity="0.55"/><circle cx="349.5" cy="202.8" r="0.64" fill="#6a4a30" opacity="0.55"/><circle cx="353.8" cy="132.1" r="0.53" fill="#6a4a30" opacity="0.55"/><circle cx="279.4" cy="168.1" r="0.49" fill="#6a4a30" opacity="0.55"/><circle cx="249.4" cy="160.1" r="0.85" fill="#6a4a30" opacity="0.55"/><circle cx="373.7" cy="200.1" r="0.64" fill="#6a4a30" opacity="0.55"/><circle cx="274.3" cy="221.0" r="0.66" fill="#6a4a30" opacity="0.55"/><circle cx="339.1" cy="129.8" r="0.51" fill="#6a4a30" opacity="0.55"/><circle cx="354.0" cy="204.9" r="0.84" fill="#6a4a30" opacity="0.55"/><circle cx="321.8" cy="168.8" r="0.69" fill="#6a4a30" opacity="0.55"/><circle cx="355.5" cy="157.2" r="0.67" fill="#6a4a30" opacity="0.55"/><circle cx="277.5" cy="202.3" r="0.41" fill="#6a4a30" opacity="0.55"/><circle cx="333.2" cy="220.5" r="0.41" fill="#6a4a30" opacity="0.55"/><circle cx="320.7" cy="190.1" r="0.83" fill="#6a4a30" opacity="0.55"/><circle cx="319.5" cy="152.2" r="0.60" fill="#6a4a30" opacity="0.55"/><circle cx="370.4" cy="215.7" r="0.47" fill="#6a4a30" opacity="0.55"/><circle cx="252.9" cy="136.2" r="0.41" fill="#6a4a30" opacity="0.55"/><circle cx="300.8" cy="140.8" r="0.83" fill="#6a4a30" opacity="0.55"/><circle cx="329.1" cy="139.4" r="0.67" fill="#6a4a30" opacity="0.55"/><circle cx="284.1" cy="175.4" r="0.51" fill="#6a4a30" opacity="0.55"/><circle cx="262.6" cy="145.0" r="0.59" fill="#6a4a30" opacity="0.55"/><circle cx="336.6" cy="180.9" r="0.42" fill="#6a4a30" opacity="0.55"/><circle cx="336.7" cy="212.6" r="0.79" fill="#6a4a30" opacity="0.55"/><circle cx="347.5" cy="127.8" r="0.63" fill="#6a4a30" opacity="0.55"/><circle cx="248.6" cy="201.9" r="0.49" fill="#6a4a30" opacity="0.55"/><circle cx="336.8" cy="151.8" r="0.75" fill="#6a4a30" opacity="0.55"/><circle cx="282.7" cy="131.1" r="0.59" fill="#6a4a30" opacity="0.55"/><circle cx="282.1" cy="215.3" r="0.55" fill="#6a4a30" opacity="0.55"/><circle cx="375.3" cy="140.8" r="0.41" fill="#5a3a20" opacity="0.7"/><circle cx="376.0" cy="145.1" r="0.47" fill="#5a3a20" opacity="0.7"/><circle cx="370.4" cy="160.9" r="0.93" fill="#5a3a20" opacity="0.7"/><circle cx="363.7" cy="221.0" r="0.59" fill="#5a3a20" opacity="0.7"/><circle cx="369.6" cy="218.3" r="0.81" fill="#5a3a20" opacity="0.7"/><circle cx="374.8" cy="196.4" r="0.43" fill="#5a3a20" opacity="0.7"/><circle cx="374.1" cy="184.8" r="0.59" fill="#5a3a20" opacity="0.7"/><circle cx="363.0" cy="210.3" r="0.75" fill="#5a3a20" opacity="0.7"/><circle cx="375.0" cy="202.8" r="0.98" fill="#5a3a20" opacity="0.7"/><circle cx="369.1" cy="195.4" r="0.77" fill="#5a3a20" opacity="0.7"/><circle cx="364.1" cy="220.8" r="0.59" fill="#5a3a20" opacity="0.7"/><circle cx="372.5" cy="220.6" r="0.79" fill="#5a3a20" opacity="0.7"/><circle cx="362.3" cy="207.9" r="0.80" fill="#5a3a20" opacity="0.7"/><circle cx="363.0" cy="131.8" r="0.72" fill="#5a3a20" opacity="0.7"/><circle cx="360.5" cy="217.7" r="0.70" fill="#5a3a20" opacity="0.7"/><circle cx="368.3" cy="167.1" r="0.80" fill="#5a3a20" opacity="0.7"/><circle cx="374.7" cy="157.1" r="0.62" fill="#5a3a20" opacity="0.7"/><circle cx="369.3" cy="156.1" r="0.76" fill="#5a3a20" opacity="0.7"/><circle cx="368.7" cy="169.5" r="0.80" fill="#5a3a20" opacity="0.7"/><circle cx="368.5" cy="135.6" r="1.00" fill="#5a3a20" opacity="0.7"/><circle cx="365.7" cy="169.3" r="0.64" fill="#5a3a20" opacity="0.7"/><circle cx="374.9" cy="220.3" r="0.71" fill="#5a3a20" opacity="0.7"/><circle cx="366.4" cy="136.5" r="0.94" fill="#5a3a20" opacity="0.7"/><circle cx="362.7" cy="180.6" r="0.61" fill="#5a3a20" opacity="0.7"/><circle cx="365.3" cy="162.0" r="0.51" fill="#5a3a20" opacity="0.7"/><circle cx="360.6" cy="179.5" r="0.88" fill="#5a3a20" opacity="0.7"/><circle cx="370.4" cy="146.7" r="0.82" fill="#5a3a20" opacity="0.7"/><circle cx="360.8" cy="167.3" r="0.90" fill="#5a3a20" opacity="0.7"/><circle cx="374.7" cy="172.1" r="0.91" fill="#5a3a20" opacity="0.7"/><circle cx="368.0" cy="178.3" r="0.75" fill="#5a3a20" opacity="0.7"/><circle cx="375.9" cy="199.9" r="0.68" fill="#5a3a20" opacity="0.7"/><circle cx="371.6" cy="190.0" r="0.61" fill="#5a3a20" opacity="0.7"/><circle cx="372.5" cy="207.3" r="0.77" fill="#5a3a20" opacity="0.7"/><circle cx="375.1" cy="128.8" r="0.70" fill="#5a3a20" opacity="0.7"/><circle cx="370.2" cy="160.4" r="0.50" fill="#5a3a20" opacity="0.7"/><circle cx="371.1" cy="169.6" r="0.56" fill="#5a3a20" opacity="0.7"/><circle cx="360.7" cy="221.8" r="0.61" fill="#5a3a20" opacity="0.7"/><circle cx="361.9" cy="148.2" r="0.55" fill="#5a3a20" opacity="0.7"/><circle cx="373.9" cy="144.7" r="0.57" fill="#5a3a20" opacity="0.7"/><circle cx="361.6" cy="173.1" r="0.52" fill="#5a3a20" opacity="0.7"/><circle cx="352.5" cy="194.9" r="0.76" fill="#6a3a20" opacity="0.7"/><circle cx="324.8" cy="187.0" r="0.57" fill="#6a3a20" opacity="0.7"/><circle cx="339.5" cy="176.9" r="0.48" fill="#6a3a20" opacity="0.7"/><circle cx="336.7" cy="178.9" r="0.58" fill="#6a3a20" opacity="0.7"/><circle cx="322.8" cy="175.9" r="0.68" fill="#6a3a20" opacity="0.7"/><circle cx="335.9" cy="185.3" r="0.69" fill="#6a3a20" opacity="0.7"/><circle cx="333.8" cy="175.3" r="0.71" fill="#6a3a20" opacity="0.7"/><circle cx="341.4" cy="188.5" r="0.65" fill="#6a3a20" opacity="0.7"/><circle cx="354.0" cy="182.0" r="0.70" fill="#6a3a20" opacity="0.7"/><circle cx="334.2" cy="186.6" r="0.66" fill="#6a3a20" opacity="0.7"/><circle cx="332.4" cy="175.9" r="0.59" fill="#6a3a20" opacity="0.7"/><circle cx="345.7" cy="187.0" r="0.58" fill="#6a3a20" opacity="0.7"/><circle cx="343.2" cy="178.0" r="0.47" fill="#6a3a20" opacity="0.7"/><circle cx="332.7" cy="191.9" r="0.48" fill="#6a3a20" opacity="0.7"/><circle cx="284.5" cy="156.8" r="0.47" fill="#6a4a30" opacity="0.6"/><circle cx="299.9" cy="143.9" r="0.67" fill="#6a4a30" opacity="0.6"/><circle cx="251.0" cy="155.2" r="0.46" fill="#6a4a30" opacity="0.6"/><circle cx="284.2" cy="154.5" r="0.71" fill="#6a4a30" opacity="0.6"/><circle cx="269.8" cy="157.3" r="0.80" fill="#6a4a30" opacity="0.6"/><circle cx="252.2" cy="150.3" r="0.78" fill="#6a4a30" opacity="0.6"/><circle cx="285.9" cy="148.9" r="0.52" fill="#6a4a30" opacity="0.6"/><circle cx="297.5" cy="141.7" r="0.70" fill="#6a4a30" opacity="0.6"/><circle cx="291.5" cy="143.2" r="0.53" fill="#6a4a30" opacity="0.6"/><circle cx="262.5" cy="150.8" r="0.55" fill="#6a4a30" opacity="0.6"/><text x="334.0" y="144.7" font-size="9.5" font-family="Liberation Serif, serif" font-weight="bold" text-anchor="middle" textLength="14.2" lengthAdjust="spacingAndGlyphs" fill="#0a0a0a" stroke="#0a0a0a" stroke-width="0.3">WP</text><text x="297.2" y="163.0" font-size="9.5" font-family="Liberation Serif, serif" font-weight="bold" text-anchor="middle" textLength="11.9" lengthAdjust="spacingAndGlyphs" fill="#0a0a0a" stroke="#0a0a0a" stroke-width="0.3">RP</text><rect x="320.8" y="171.8" width="35.6" height="27.2" fill="none" stroke="#000" stroke-width="1.5"/><line x1="356.4" y1="188.2" x2="372.8" y2="188.2" stroke="#000" stroke-width="1.2"/><path d="M371.40000000000003,186.5 L374.8,188.2 L371.40000000000003,189.89999999999998 Z" fill="#000" stroke="#000" stroke-width="0.5" stroke-linejoin="round"/></g>
<g clip-path="url(#cp11)"><rect x="378.6" y="126.0" width="138.6" height="100.0" fill="#50eeb0"/><g filter="url(#bl5)" opacity="0.4"><path d="M378,160 C410,150 440,170 470,196 C490,210 505,222 518,226 L518,200 C500,190 480,176 470,168 C440,150 410,140 378,140 Z" fill="#d0d0c8"/><ellipse cx="392" cy="140" rx="14" ry="12" fill="#d4f0e6"/><ellipse cx="420" cy="178" rx="26" ry="12" fill="#c4c2bc"/></g><rect x="378.6" y="126.0" width="138.6" height="100.0" filter="url(#spkb)" opacity="0.75"/><rect x="378.6" y="126.0" width="138.6" height="100.0" filter="url(#gry)" opacity="0.3"/><circle cx="381.7" cy="138.9" r="0.56" fill="#8a4030" opacity="0.55"/><circle cx="473.0" cy="141.5" r="0.44" fill="#8a4030" opacity="0.55"/><circle cx="411.5" cy="201.5" r="0.46" fill="#8a4030" opacity="0.55"/><circle cx="480.7" cy="192.2" r="0.45" fill="#8a4030" opacity="0.55"/><circle cx="452.8" cy="171.4" r="0.57" fill="#8a4030" opacity="0.55"/><circle cx="515.5" cy="137.0" r="0.41" fill="#8a4030" opacity="0.55"/><circle cx="507.8" cy="167.1" r="0.48" fill="#8a4030" opacity="0.55"/><circle cx="424.9" cy="163.4" r="0.78" fill="#8a4030" opacity="0.55"/><circle cx="408.6" cy="149.0" r="0.63" fill="#8a4030" opacity="0.55"/><circle cx="454.4" cy="220.5" r="0.74" fill="#8a4030" opacity="0.55"/><circle cx="428.3" cy="147.8" r="0.73" fill="#8a4030" opacity="0.55"/><circle cx="514.5" cy="130.9" r="0.69" fill="#8a4030" opacity="0.55"/><circle cx="498.1" cy="191.2" r="0.49" fill="#8a4030" opacity="0.55"/><circle cx="488.3" cy="198.8" r="0.48" fill="#8a4030" opacity="0.55"/><circle cx="467.2" cy="149.3" r="0.42" fill="#8a4030" opacity="0.55"/><circle cx="425.7" cy="160.4" r="0.56" fill="#8a4030" opacity="0.55"/><circle cx="468.0" cy="209.1" r="0.78" fill="#8a4030" opacity="0.55"/><circle cx="512.8" cy="224.4" r="0.72" fill="#8a4030" opacity="0.55"/><circle cx="421.7" cy="145.1" r="0.65" fill="#8a4030" opacity="0.55"/><circle cx="454.2" cy="193.4" r="0.44" fill="#8a4030" opacity="0.55"/><circle cx="406.2" cy="217.3" r="0.64" fill="#8a4030" opacity="0.55"/><circle cx="474.6" cy="137.3" r="0.56" fill="#8a4030" opacity="0.55"/><circle cx="503.8" cy="191.0" r="0.80" fill="#8a4030" opacity="0.55"/><circle cx="406.8" cy="172.1" r="0.72" fill="#8a4030" opacity="0.55"/><circle cx="440.5" cy="204.5" r="0.62" fill="#8a4030" opacity="0.55"/><circle cx="396.1" cy="137.6" r="0.79" fill="#8a4030" opacity="0.55"/><circle cx="396.2" cy="146.8" r="0.53" fill="#8a4030" opacity="0.55"/><circle cx="477.0" cy="210.8" r="0.59" fill="#8a4030" opacity="0.55"/><circle cx="447.7" cy="204.5" r="0.51" fill="#8a4030" opacity="0.55"/><circle cx="430.6" cy="187.4" r="0.65" fill="#8a4030" opacity="0.55"/><circle cx="385.2" cy="138.9" r="0.46" fill="#8a4030" opacity="0.55"/><circle cx="478.6" cy="195.2" r="0.79" fill="#8a4030" opacity="0.55"/><circle cx="484.4" cy="152.7" r="0.71" fill="#8a4030" opacity="0.55"/><circle cx="514.0" cy="161.8" r="0.40" fill="#8a4030" opacity="0.55"/><circle cx="431.0" cy="155.4" r="0.47" fill="#8a4030" opacity="0.55"/><circle cx="386.1" cy="140.1" r="0.75" fill="#8a4030" opacity="0.55"/><circle cx="386.8" cy="187.6" r="0.48" fill="#8a4030" opacity="0.55"/><circle cx="406.3" cy="207.6" r="0.52" fill="#8a4030" opacity="0.55"/><circle cx="405.0" cy="172.1" r="0.68" fill="#8a4030" opacity="0.55"/><circle cx="451.3" cy="211.4" r="0.56" fill="#8a4030" opacity="0.55"/><circle cx="451.3" cy="197.6" r="0.58" fill="#8a4030" opacity="0.55"/><circle cx="477.5" cy="173.3" r="0.45" fill="#8a4030" opacity="0.55"/><circle cx="396.8" cy="204.0" r="0.70" fill="#8a4030" opacity="0.55"/><circle cx="508.2" cy="194.9" r="0.63" fill="#8a4030" opacity="0.55"/><circle cx="402.6" cy="210.8" r="0.45" fill="#8a4030" opacity="0.55"/><circle cx="437.8" cy="141.6" r="0.55" fill="#8a4030" opacity="0.55"/><circle cx="421.8" cy="169.3" r="0.68" fill="#8a4030" opacity="0.55"/><circle cx="453.7" cy="151.5" r="0.71" fill="#8a4030" opacity="0.55"/><circle cx="480.0" cy="208.2" r="0.41" fill="#8a4030" opacity="0.55"/><circle cx="463.6" cy="214.9" r="0.50" fill="#8a4030" opacity="0.55"/><circle cx="407.5" cy="206.9" r="0.55" fill="#8a4030" opacity="0.55"/><circle cx="434.6" cy="207.3" r="0.55" fill="#8a4030" opacity="0.55"/><circle cx="407.0" cy="148.8" r="0.54" fill="#8a4030" opacity="0.55"/><circle cx="474.9" cy="163.7" r="0.71" fill="#8a4030" opacity="0.55"/><circle cx="389.0" cy="152.2" r="0.65" fill="#8a4030" opacity="0.55"/><circle cx="445.2" cy="176.5" r="0.77" fill="#8a4030" opacity="0.55"/><circle cx="417.7" cy="145.6" r="0.41" fill="#8a4030" opacity="0.55"/><circle cx="445.6" cy="156.8" r="0.59" fill="#8a4030" opacity="0.55"/><circle cx="380.8" cy="128.0" r="0.55" fill="#8a4030" opacity="0.55"/><circle cx="483.0" cy="157.1" r="0.77" fill="#8a4030" opacity="0.55"/><circle cx="458.8" cy="167.1" r="0.71" fill="#8a4030" opacity="0.55"/><circle cx="411.7" cy="186.7" r="0.74" fill="#8a4030" opacity="0.55"/><circle cx="453.6" cy="159.0" r="0.44" fill="#8a4030" opacity="0.55"/><circle cx="458.1" cy="146.2" r="0.55" fill="#8a4030" opacity="0.55"/><circle cx="453.8" cy="219.3" r="0.67" fill="#8a4030" opacity="0.55"/><circle cx="450.6" cy="211.3" r="0.52" fill="#8a4030" opacity="0.55"/><circle cx="432.7" cy="193.7" r="0.62" fill="#8a4030" opacity="0.55"/><circle cx="410.1" cy="167.8" r="0.73" fill="#8a4030" opacity="0.55"/><circle cx="413.0" cy="196.5" r="0.42" fill="#8a4030" opacity="0.55"/><circle cx="509.8" cy="194.4" r="0.53" fill="#8a4030" opacity="0.55"/><circle cx="402.3" cy="162.8" r="1.7" fill="#4a1808" opacity="0.9"/><circle cx="399" cy="161" r="1.3" fill="#4a1808" opacity="0.9"/><circle cx="414.8" cy="191.8" r="1.3" fill="#4a1808" opacity="0.9"/><circle cx="425.3" cy="185.5" r="1.3" fill="#4a1808" opacity="0.9"/><circle cx="441" cy="191.8" r="1.4" fill="#4a1808" opacity="0.9"/><circle cx="420.3" cy="171" r="1.1" fill="#4a1808" opacity="0.9"/><circle cx="457.7" cy="150.3" r="1.1" fill="#4a1808" opacity="0.9"/><circle cx="464" cy="155.8" r="1.2" fill="#4a1808" opacity="0.9"/><circle cx="473" cy="182" r="1.7" fill="#4a1808" opacity="0.9"/><circle cx="475.5" cy="184.6" r="1.5" fill="#4a1808" opacity="0.9"/><circle cx="471" cy="186" r="1.2" fill="#4a1808" opacity="0.9"/><circle cx="502" cy="151.7" r="1.4" fill="#4a1808" opacity="0.9"/><circle cx="506" cy="135" r="1.3" fill="#4a1808" opacity="0.9"/><circle cx="511" cy="183.5" r="1.4" fill="#4a1808" opacity="0.9"/><circle cx="500" cy="212.6" r="1.3" fill="#4a1808" opacity="0.9"/><circle cx="412" cy="216.8" r="1.4" fill="#4a1808" opacity="0.9"/><circle cx="387" cy="191.8" r="1.1" fill="#4a1808" opacity="0.9"/><circle cx="381.5" cy="205.7" r="1.0" fill="#4a1808" opacity="0.9"/><circle cx="513" cy="154.5" r="1.2" fill="#4a1808" opacity="0.9"/><circle cx="437" cy="189" r="1.1" fill="#4a1808" opacity="0.9"/><text x="462.2" y="176.6" font-size="9.5" font-family="Liberation Serif, serif" font-weight="bold" text-anchor="middle" textLength="11.9" lengthAdjust="spacingAndGlyphs" fill="#0a0a0a" stroke="#0a0a0a" stroke-width="0.3">RP</text></g>
<defs><clipPath id="t4"><path d="M252.8,226 L305.3,226 L305.3,228.7 C308,234 310,239 313.4,242.2 C318,248 322,254 326.9,258.3 C331,263 336,268 340.3,271.8 C344,276 348,281 351.1,285.2 C355,290 358,295 360.5,298.7 C363,303 365,306 367.2,309.5 C369,313 371,316 371.3,318.9 C372,322 371,326 369.9,328.3 L367,334 L286.5,334 C282,322 279,318 275.7,314.9 C272,311 270,307 267.6,304.1 C264,300 262,297 259.5,293.3 C256,288 254,284 251.5,279.8 C248,274 245,269 243.4,263.7 C241,259 240,255 240.7,252.9 C241,248 243,245 244.7,242.2 C247,237 250,232 252.8,228.7 Z"/></clipPath></defs>
<g clip-path="url(#cp20)"><rect x="239.6" y="228.0" width="136.6" height="103.5" fill="#fbfafa"/><g filter="url(#bl2)"><path d="M252.8,226 L305.3,226 L305.3,228.7 C308,234 310,239 313.4,242.2 C318,248 322,254 326.9,258.3 C331,263 336,268 340.3,271.8 C344,276 348,281 351.1,285.2 C355,290 358,295 360.5,298.7 C363,303 365,306 367.2,309.5 C369,313 371,316 371.3,318.9 C372,322 371,326 369.9,328.3 L367,334 L286.5,334 C282,322 279,318 275.7,314.9 C272,311 270,307 267.6,304.1 C264,300 262,297 259.5,293.3 C256,288 254,284 251.5,279.8 C248,274 245,269 243.4,263.7 C241,259 240,255 240.7,252.9 C241,248 243,245 244.7,242.2 C247,237 250,232 252.8,228.7 Z" fill="#d4ccd6"/></g><g filter="url(#bl3)"><path d="M258,226 L302,226 C306,236 311,244 318,250 C326,258 336,266 344,276 C352,286 360,298 364,310 C367,318 366,326 364,334 L318,334 C310,326 302,318 292,310 C282,302 272,294 264,284 C256,274 252,266 252,256 C252,246 254,236 258,226 Z" fill="#30e49a"/></g><g filter="url(#bl5)" opacity="0.7"><ellipse cx="262" cy="254" rx="14" ry="24" fill="#d0dcdc"/><ellipse cx="268" cy="234" rx="10" ry="8" fill="#c0dcd4"/><ellipse cx="345" cy="300" rx="10" ry="16" fill="#a8d8c8"/><ellipse cx="300" cy="326" rx="20" ry="8" fill="#c8e4dc"/></g><g clip-path="url(#t4)"><rect x="239.6" y="228.0" width="136.6" height="103.5" filter="url(#spkb)" opacity="0.8"/><rect x="239.6" y="228.0" width="136.6" height="103.5" filter="url(#mot)" opacity="0.3"/><rect x="239.6" y="228.0" width="136.6" height="103.5" filter="url(#gry)" opacity="0.15"/></g><text x="298.5" y="265.7" font-size="9.5" font-family="Liberation Serif, serif" font-weight="bold" text-anchor="middle" textLength="5.0" lengthAdjust="spacingAndGlyphs" fill="#0a0a0a" stroke="#0a0a0a" stroke-width="0.3">F</text><text x="285.1" y="277.0" font-size="9.5" font-family="Liberation Serif, serif" font-weight="bold" text-anchor="middle" textLength="11.8" lengthAdjust="spacingAndGlyphs" fill="#0a0a0a" stroke="#0a0a0a" stroke-width="0.3">GC</text><rect x="263.8" y="252.8" width="49.0" height="35.9" fill="none" stroke="#000" stroke-width="1.5"/><line x1="312.8" y1="275.5" x2="372.8" y2="275.5" stroke="#000" stroke-width="1.2"/><path d="M371.40000000000003,273.8 L374.8,275.5 L371.40000000000003,277.2 Z" fill="#000" stroke="#000" stroke-width="0.5" stroke-linejoin="round"/></g>
<g clip-path="url(#cp21)"><rect x="378.6" y="228.0" width="138.6" height="103.5" fill="#1ed4a0"/><g filter="url(#bl5)" opacity="0.45"><ellipse cx="395" cy="250" rx="16" ry="18" fill="#b0e0cc"/><ellipse cx="434" cy="290" rx="18" ry="12" fill="#b8e2d2"/><ellipse cx="510" cy="262" rx="10" ry="10" fill="#c0e8da"/><ellipse cx="420" cy="236" rx="20" ry="6" fill="#a8dcc8"/><ellipse cx="488" cy="290" rx="16" ry="20" fill="#1ccc90"/></g><rect x="378.6" y="228.0" width="138.6" height="103.5" filter="url(#spkb)" opacity="0.95"/><rect x="378.6" y="228.0" width="138.6" height="103.5" filter="url(#gry)" opacity="0.1"/><text x="451.4" y="275.3" font-size="9.5" font-family="Liberation Serif, serif" font-weight="bold" text-anchor="middle" textLength="12.5" lengthAdjust="spacingAndGlyphs" fill="#0a0a0a" stroke="#0a0a0a" stroke-width="0.3">GC</text><text x="476.2" y="264.8" font-size="9.5" font-family="Liberation Serif, serif" font-weight="bold" text-anchor="middle" textLength="5.5" lengthAdjust="spacingAndGlyphs" fill="#0a0a0a" stroke="#0a0a0a" stroke-width="0.3">F</text></g>
<defs><clipPath id="t6"><path d="M242,332 L351,332 C350,340 349,350 346,358 C343,365 341,370 341.7,374 C343,380 346,384 349.7,386 C353,392 355,396 356.5,399.3 C358,405 359,410 359.2,412.8 L360.5,436 L238,436 L238,400 C241,380 242,360 242,332 Z"/></clipPath></defs>
<g clip-path="url(#cp30)"><rect x="239.6" y="333.4" width="136.6" height="99.8" fill="#f9f9f8"/><g filter="url(#bl2)"><path d="M244,332 L258,332 L258,400 L266,434 L238,434 L238,400 C242,380 244,360 244,332 Z" fill="#eee8e8"/><path d="M238,395 L260,390 L266,434 L238,434 Z" fill="#cfc4c6"/><path d="M257,332 L351,332 C350,340 349,350 346,358 C343,365 341,370 341.7,374 C343,380 346,384 349.7,386 C353,392 355,396 356.5,399.3 C358,405 359,410 359.2,412.8 L360.5,436 L264,436 C262,420 260,405 259,390 C258,370 257,350 257,332 Z" fill="#54eeb0"/></g><g filter="url(#bl5)" opacity="0.7"><ellipse cx="268" cy="368" rx="9" ry="34" fill="#b8f4e0"/><ellipse cx="290" cy="360" rx="18" ry="14" fill="#90f4d0"/><ellipse cx="325" cy="342" rx="26" ry="10" fill="#24e890"/><ellipse cx="300" cy="428" rx="22" ry="8" fill="#28e692"/><ellipse cx="320" cy="400" rx="12" ry="10" fill="#38e89c"/></g><g clip-path="url(#t6)"><rect x="239.6" y="333.4" width="136.6" height="99.8" filter="url(#spkb)" opacity="0.4"/><rect x="239.6" y="333.4" width="136.6" height="99.8" filter="url(#gry)" opacity="0.15"/></g><circle cx="275" cy="379" r="1.0" fill="#3a2418" opacity="0.9"/><circle cx="280" cy="381" r="1.0" fill="#3a2418" opacity="0.9"/><circle cx="277" cy="385" r="0.9" fill="#3a2418" opacity="0.9"/><circle cx="283" cy="378" r="0.8" fill="#3a2418" opacity="0.9"/><circle cx="274" cy="383" r="0.8" fill="#3a2418" opacity="0.9"/><circle cx="286" cy="384" r="0.8" fill="#3a2418" opacity="0.9"/><circle cx="254" cy="403" r="1.2" fill="#3a2418" opacity="0.9"/><circle cx="252" cy="400" r="1.0" fill="#3a2418" opacity="0.9"/><circle cx="264" cy="420" r="0.9" fill="#3a2418" opacity="0.9"/><circle cx="303" cy="422" r="0.9" fill="#3a2418" opacity="0.9"/><circle cx="312" cy="426" r="0.8" fill="#3a2418" opacity="0.9"/><circle cx="332" cy="412" r="0.8" fill="#3a2418" opacity="0.9"/><circle cx="348" cy="410" r="0.8" fill="#3a2418" opacity="0.9"/><circle cx="338" cy="424" r="0.8" fill="#3a2418" opacity="0.9"/><circle cx="298" cy="431" r="0.9" fill="#3a2418" opacity="0.9"/><circle cx="270" cy="348" r="0.7" fill="#3a2418" opacity="0.9"/><circle cx="300" cy="337" r="0.7" fill="#3a2418" opacity="0.9"/><circle cx="325" cy="372" r="0.7" fill="#3a2418" opacity="0.9"/><circle cx="355" cy="398" r="0.7" fill="#3a2418" opacity="0.9"/><text x="339.4" y="395.3" font-size="9.5" font-family="Liberation Serif, serif" font-weight="bold" text-anchor="middle" textLength="4.7" lengthAdjust="spacingAndGlyphs" fill="#0a0a0a" stroke="#0a0a0a" stroke-width="0.3">F</text><text x="328.9" y="406.0" font-size="9.5" font-family="Liberation Serif, serif" font-weight="bold" text-anchor="middle" textLength="12.2" lengthAdjust="spacingAndGlyphs" fill="#0a0a0a" stroke="#0a0a0a" stroke-width="0.3">GC</text><rect x="305.3" y="384.6" width="48.5" height="36.9" fill="none" stroke="#000" stroke-width="1.5"/><line x1="353.8" y1="409.8" x2="372.8" y2="409.8" stroke="#000" stroke-width="1.2"/><path d="M371.40000000000003,408.1 L374.8,409.8 L371.40000000000003,411.5 Z" fill="#000" stroke="#000" stroke-width="0.5" stroke-linejoin="round"/></g>
<g clip-path="url(#cp31)"><rect x="378.6" y="333.4" width="138.6" height="99.8" fill="#22dcaa"/><rect x="378.6" y="333.4" width="138.6" height="99.8" filter="url(#spkb)" opacity="0.98"/><rect x="378.6" y="333.4" width="138.6" height="99.8" filter="url(#gry)" opacity="0.08"/><circle cx="406.5" cy="339" r="1.3" fill="#4a1206" opacity="0.9"/><circle cx="407.6" cy="338.5" r="0.74" fill="#4a1206" opacity="0.9"/><circle cx="407.7" cy="337.8" r="0.84" fill="#4a1206" opacity="0.9"/><circle cx="421.7" cy="341.7" r="1.2" fill="#4a1206" opacity="0.9"/><circle cx="421.9" cy="342.0" r="0.65" fill="#4a1206" opacity="0.9"/><circle cx="422.2" cy="341.7" r="0.91" fill="#4a1206" opacity="0.9"/><circle cx="439.1" cy="361" r="1.3" fill="#4a1206" opacity="0.9"/><circle cx="437.4" cy="362.4" r="0.72" fill="#4a1206" opacity="0.9"/><circle cx="440.2" cy="361.0" r="0.98" fill="#4a1206" opacity="0.9"/><circle cx="449.4" cy="381.8" r="2.2" fill="#4a1206" opacity="0.9"/><circle cx="448.3" cy="381.3" r="1.16" fill="#4a1206" opacity="0.9"/><circle cx="450.4" cy="381.9" r="1.24" fill="#4a1206" opacity="0.9"/><circle cx="403.7" cy="379" r="1.1" fill="#4a1206" opacity="0.9"/><circle cx="402.6" cy="377.7" r="0.62" fill="#4a1206" opacity="0.9"/><circle cx="403.9" cy="378.8" r="0.78" fill="#4a1206" opacity="0.9"/><circle cx="410.6" cy="381.8" r="1.2" fill="#4a1206" opacity="0.9"/><circle cx="409.1" cy="382.8" r="0.95" fill="#4a1206" opacity="0.9"/><circle cx="411.5" cy="382.5" r="0.91" fill="#4a1206" opacity="0.9"/><circle cx="389.8" cy="388.8" r="1.3" fill="#4a1206" opacity="0.9"/><circle cx="388.3" cy="388.7" r="0.68" fill="#4a1206" opacity="0.9"/><circle cx="390.8" cy="388.9" r="0.69" fill="#4a1206" opacity="0.9"/><circle cx="406.5" cy="394.3" r="1.5" fill="#4a1206" opacity="0.9"/><circle cx="406.3" cy="395.1" r="1.0" fill="#4a1206" opacity="0.9"/><circle cx="405.1" cy="395.6" r="0.78" fill="#4a1206" opacity="0.9"/><circle cx="503.4" cy="376.3" r="1.6" fill="#4a1206" opacity="0.9"/><circle cx="504.6" cy="377.7" r="1.16" fill="#4a1206" opacity="0.9"/><circle cx="505.0" cy="376.4" r="0.91" fill="#4a1206" opacity="0.9"/><circle cx="397.6" cy="413.7" r="1.6" fill="#4a1206" opacity="0.9"/><circle cx="397.5" cy="414.4" r="1.17" fill="#4a1206" opacity="0.9"/><circle cx="397.2" cy="415.0" r="0.82" fill="#4a1206" opacity="0.9"/><circle cx="412" cy="423.4" r="1.8" fill="#4a1206" opacity="0.9"/><circle cx="412.0" cy="422.0" r="1.09" fill="#4a1206" opacity="0.9"/><circle cx="413.8" cy="422.3" r="1.43" fill="#4a1206" opacity="0.9"/><circle cx="453.5" cy="416.5" r="1.7" fill="#4a1206" opacity="0.9"/><circle cx="455.0" cy="417.1" r="0.88" fill="#4a1206" opacity="0.9"/><circle cx="453.4" cy="417.1" r="0.9" fill="#4a1206" opacity="0.9"/><circle cx="486.8" cy="423.4" r="1.7" fill="#4a1206" opacity="0.9"/><circle cx="486.1" cy="422.2" r="1.28" fill="#4a1206" opacity="0.9"/><circle cx="488.3" cy="424.7" r="1.23" fill="#4a1206" opacity="0.9"/><circle cx="496.5" cy="412.9" r="1.1" fill="#4a1206" opacity="0.9"/><circle cx="496.8" cy="411.6" r="0.71" fill="#4a1206" opacity="0.9"/><circle cx="497.4" cy="413.7" r="0.56" fill="#4a1206" opacity="0.9"/><circle cx="513" cy="381.3" r="1.0" fill="#4a1206" opacity="0.9"/><circle cx="511.2" cy="380.1" r="0.78" fill="#4a1206" opacity="0.9"/><circle cx="511.6" cy="381.0" r="0.64" fill="#4a1206" opacity="0.9"/><circle cx="400" cy="415" r="1.1" fill="#4a1206" opacity="0.9"/><circle cx="401.4" cy="413.9" r="0.64" fill="#4a1206" opacity="0.9"/><circle cx="401.0" cy="413.8" r="0.6" fill="#4a1206" opacity="0.9"/><circle cx="457" cy="418" r="1.3" fill="#4a1206" opacity="0.9"/><circle cx="455.3" cy="419.4" r="0.74" fill="#4a1206" opacity="0.9"/><circle cx="457.0" cy="417.6" r="1.03" fill="#4a1206" opacity="0.9"/><circle cx="489" cy="424" r="1.3" fill="#4a1206" opacity="0.9"/><circle cx="489.8" cy="424.3" r="0.84" fill="#4a1206" opacity="0.9"/><circle cx="488.2" cy="425.0" r="0.69" fill="#4a1206" opacity="0.9"/><text x="403.0" y="359.1" font-size="9.5" font-family="Liberation Serif, serif" font-weight="bold" text-anchor="middle" textLength="4.0" lengthAdjust="spacingAndGlyphs" fill="#0a0a0a" stroke="#0a0a0a" stroke-width="0.3">F</text><text x="427.9" y="374.1" font-size="9.5" font-family="Liberation Serif, serif" font-weight="bold" text-anchor="middle" textLength="12.5" lengthAdjust="spacingAndGlyphs" fill="#0a0a0a" stroke="#0a0a0a" stroke-width="0.3">GC</text></g>
<rect x="238.6" y="19.9" width="279.4" height="414.2" fill="none" stroke="#000" stroke-width="2.4"/>
<line x1="377.4" y1="19" x2="377.4" y2="435" stroke="#000" stroke-width="2.4"/>
<line x1="238" y1="125.0" x2="519" y2="125.0" stroke="#000" stroke-width="2.2"/>
<line x1="238" y1="227.0" x2="519" y2="227.0" stroke="#000" stroke-width="2.2"/>
<line x1="238" y1="332.4" x2="519" y2="332.4" stroke="#000" stroke-width="2.2"/>
<line x1="208.8" y1="29.3" x2="208.8" y2="104" stroke="#223" stroke-width="1.4"/>
<line x1="208.8" y1="147.5" x2="208.8" y2="222" stroke="#223" stroke-width="1.4"/>
<text transform="translate(212.4,127.2) rotate(-90)" font-size="10" font-family="Liberation Serif, serif" font-weight="bold" text-anchor="middle" textLength="29" lengthAdjust="spacingAndGlyphs">Spleen</text>
<line x1="209" y1="236" x2="209" y2="311" stroke="#223" stroke-width="1.4"/>
<line x1="209" y1="347" x2="209" y2="422" stroke="#223" stroke-width="1.4"/>
<text transform="translate(212.6,328.2) rotate(-90)" font-size="10" font-family="Liberation Serif, serif" font-weight="bold" text-anchor="middle" textLength="26" lengthAdjust="spacingAndGlyphs">MLN</text>
<text x="225" y="78.2" font-size="10" font-family="Liberation Serif, serif" font-weight="bold" text-anchor="middle" fill="#000" textLength="10.8" lengthAdjust="spacingAndGlyphs" >wt</text>
<text x="224.2" y="182.6" font-size="10" font-family="Liberation Serif, serif" font-weight="bold" text-anchor="middle" fill="#000" textLength="12.3" lengthAdjust="spacingAndGlyphs" >lpr</text>
<text x="225.2" y="285.2" font-size="10" font-family="Liberation Serif, serif" font-weight="bold" text-anchor="middle" fill="#000" textLength="11" lengthAdjust="spacingAndGlyphs" >wt</text>
<text x="224.9" y="388.6" font-size="10" font-family="Liberation Serif, serif" font-weight="bold" text-anchor="middle" fill="#000" textLength="11.8" lengthAdjust="spacingAndGlyphs" >lpr</text>
</svg>
</body></html>
